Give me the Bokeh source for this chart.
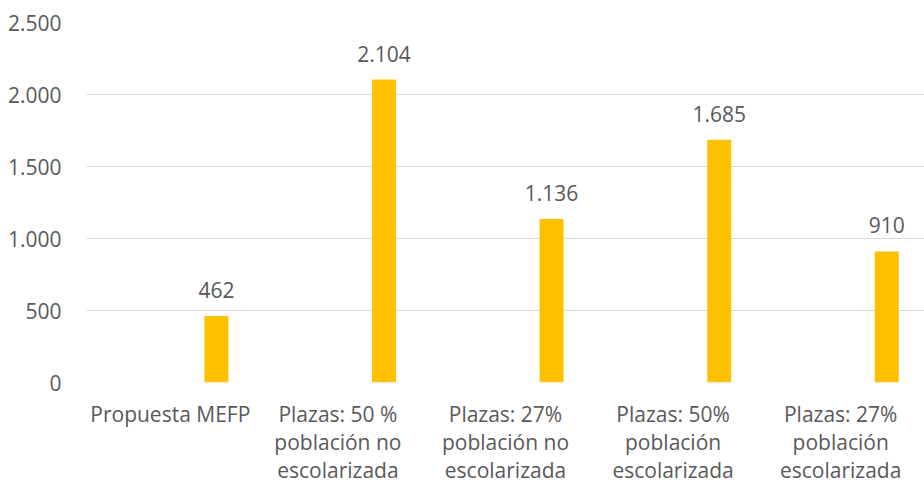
from bokeh.plotting import figure
from bokeh.models import ColumnDataSource, FactorRange, Range1d, CustomJSTickFormatter, FixedTicker
from bokeh.transform import dodge
from bokeh.core.properties import value
from bokeh.embed import file_html
from bokeh.resources import INLINE

categories = ["Propuesta MEFP",
              "Plazas: 50 %\npoblación no\nescolarizada",
              "Plazas: 27%\npoblación no\nescolarizada",
              "Plazas: 50%\npoblación\nescolarizada",
              "Plazas: 27%\npoblación\nescolarizada"]
values = [462, 2104, 1136, 1685, 910]
value_labels = ["462", "2.104", "1.136", "1.685", "910"]
y_ticks = [0, 500, 1000, 1500, 2000, 2500]

FONT = "Open Sans"
TXT = "#595959"

src = ColumnDataSource(dict(cat=categories, val=values, lab=value_labels))

p = figure(x_range=FactorRange(factors=categories, range_padding=0),
           y_range=Range1d(0, 2500),
           width=924, height=486, output_backend="svg", toolbar_location=None,
           min_border_left=86, min_border_right=0, min_border_top=22, min_border_bottom=103)
p.outline_line_color = None

p.vbar(x=dodge("cat", 0.275, range=p.x_range), top="val", width=0.143, source=src,
       fill_color="#FFC000", line_color=None)
p.text(x=dodge("cat", 0.275, range=p.x_range), y="val", text="lab", source=src,
       text_align="center", text_baseline="bottom", y_offset=-18,
       text_font=value(FONT), text_font_size="21px", text_color=TXT)

p.xgrid.grid_line_color = None
p.ygrid.grid_line_color = "#D9D9D9"
p.ygrid.grid_line_width = 1
p.yaxis.ticker = FixedTicker(ticks=y_ticks)
p.yaxis.formatter = CustomJSTickFormatter(code="return tick.toLocaleString('de-DE');")
for ax in (p.xaxis, p.yaxis):
    ax.axis_line_color = None
    ax.major_tick_line_color = None
    ax.minor_tick_line_color = None
    ax.major_label_text_font = FONT
    ax.major_label_text_font_size = "21px"
    ax.major_label_text_color = TXT
p.yaxis.major_label_standoff = 19
p.xaxis.major_label_standoff = 11
p.xaxis.major_label_text_line_height = 1.0
p.xaxis.major_label_orientation = "horizontal"

open("out.html", "w").write(file_html(p, INLINE))
